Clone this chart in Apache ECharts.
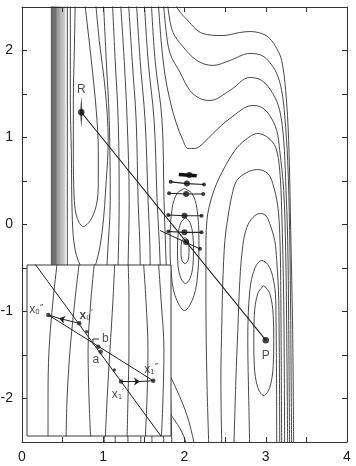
<!DOCTYPE html>
<html><head><meta charset="utf-8">
<script src="https://cdn.jsdelivr.net/npm/echarts@6/dist/echarts.min.js"></script>
<style>html,body{margin:0;padding:0;background:#fff}#c{width:356px;height:466px}</style>
</head><body><div id="c"></div>
<script>
// ---- tick labels ----
const xTickLabels = [0, 1, 2, 3, 4];
const yTickLabels = [-2, -1, 0, 1, 2];

// ---- main surface contours (data coordinates) ----
const bandX = [0.362,0.372,0.382,0.392,0.402,0.412,0.423,0.434,0.446,0.458,0.47,0.483,0.497,0.512,0.527];
const wallLineX = [0.558];
const contourU = [[0.656,2.6],[0.644,2.0],[0.632,1.425],[0.632,0.851],[0.644,0.276],[0.681,0.069],[0.755,-0.023],[0.84,0.046],[0.914,0.218],[0.939,0.471],[0.939,0.851],[0.914,1.31],[0.853,1.885],[0.791,2.402],[0.767,2.6]];
const contourR2 = [[0.595,2.6],[0.595,1.425],[0.607,0.851],[0.62,0.046],[0.656,-0.299],[0.742,-0.506],[0.84,-0.552],[0.914,-0.437],[0.988,-0.069],[1.037,0.506],[1.061,0.966],[1.025,1.54],[0.951,2.115],[0.902,2.6]];
const vRowsY = [2.6,1.885,1.195,0.276,-0.414,-1.103,-1.793,-2.6];
const contourV1 = [1.0,1.037,1.074,1.086,1.049,1.025,1.012,1.012];
const contourV2 = [1.11,1.147,1.184,1.196,1.184,1.16,1.147,1.147];
const contourV3 = [1.209,1.258,1.294,1.319,1.307,1.294,1.294,1.307];
const contourV4 = [1.307,1.356,1.405,1.429,1.454,1.454,1.454,1.466];
const contourV5 = [1.405,1.454,1.515,1.552,1.577,1.577,1.589,1.601];
const contourV6 = [1.503,1.552,1.626,1.663,1.699,1.712,1.724,1.748];
const contourV7 = [1.589,1.638,1.724,1.748,1.773,1.798,1.822,1.847];
const contourA = [[1.883,2.6],[1.908,2.494],[2.006,2.379],[2.227,2.195],[2.472,2.172],[2.681,2.207],[2.804,2.218],[2.951,2.195],[3.049,2.138],[3.135,2.023],[3.196,1.885],[3.245,1.54],[3.282,0.966],[3.307,-0.069],[3.331,-1.218],[3.344,-2.6]];
const contourB = [[1.785,2.6],[1.81,2.402],[1.859,2.207],[1.969,2.057],[2.153,1.885],[2.35,1.828],[2.558,1.885],[2.804,1.966],[2.951,1.943],[3.049,1.862],[3.135,1.736],[3.196,1.54],[3.233,1.253],[3.27,0.736],[3.294,-0.069],[3.307,-1.103],[3.319,-2.6]];
const contourC = [[1.736,2.6],[1.773,2.23],[1.822,1.966],[1.945,1.747],[2.067,1.54],[2.19,1.448],[2.313,1.425],[2.558,1.54],[2.804,1.69],[2.951,1.655],[3.086,1.506],[3.172,1.31],[3.221,0.966],[3.245,0.506],[3.27,-0.184],[3.282,-1.103],[3.294,-2.6]];
const contourD = [[1.675,2.6],[1.712,2.115],[1.761,1.713],[1.822,1.425],[1.896,1.172],[1.982,0.966],[2.043,0.874],[2.129,0.874],[2.227,0.931],[2.35,1.046],[2.558,1.218],[2.84,1.368],[2.951,1.345],[3.049,1.253],[3.135,1.08],[3.172,0.851],[3.221,0.391],[3.245,-0.299],[3.258,-1.218],[3.27,-2.6]];
const contourE = [[2.301,-2.6],[2.276,-1.793],[2.264,-0.874],[2.264,-0.184],[2.276,0.046],[2.301,0.195],[2.362,0.391],[2.46,0.598],[2.62,0.851],[2.755,0.977],[2.902,1.046],[3.025,1.0],[3.123,0.885],[3.172,0.621],[3.196,0.161],[3.221,-0.874],[3.233,-2.6]];
const contourArch2 = [[2.46,-2.6],[2.448,-1.793],[2.46,-1.103],[2.472,-0.644],[2.497,-0.184],[2.534,0.08],[2.583,0.333],[2.644,0.506],[2.767,0.598],[2.902,0.632],[3.025,0.586],[3.086,0.471],[3.147,0.218],[3.172,-0.103],[3.184,-0.644],[3.196,-2.6]];
const contourArch1 = [[2.607,-2.6],[2.632,-1.793],[2.656,-1.218],[2.681,-0.644],[2.718,-0.241],[2.767,-0.034],[2.84,0.08],[2.926,0.126],[3.0,0.103],[3.049,0.011],[3.11,-0.184],[3.135,-0.414],[3.16,-0.874],[3.172,-2.6]];
const contourArch0 = [[2.804,-2.6],[2.791,-2.023],[2.779,-1.333],[2.804,-0.759],[2.865,-0.506],[2.951,-0.414],[3.025,-0.46],[3.086,-0.598],[3.123,-0.874],[3.135,-2.6]];
const contourP = [[2.975,-0.701],[3.049,-0.793],[3.092,-1.046],[3.098,-1.333],[3.092,-1.621],[3.049,-1.874],[2.975,-1.966],[2.902,-1.874],[2.859,-1.621],[2.853,-1.333],[2.859,-1.046],[2.902,-0.793],[2.975,-0.701]];
const contourI1 = [[2.006,-0.149],[2.043,-0.184],[2.055,-0.299],[2.043,-0.414],[2.006,-0.448],[1.969,-0.414],[1.957,-0.299],[1.969,-0.184],[2.006,-0.149]];
const contourI2 = [[2.012,0.08],[2.067,0.023],[2.104,-0.126],[2.11,-0.299],[2.104,-0.471],[2.067,-0.621],[2.012,-0.678],[1.957,-0.621],[1.92,-0.471],[1.914,-0.299],[1.92,-0.126],[1.957,0.023],[2.012,0.08]];
const contourI3 = [[2.0,0.414],[2.092,0.356],[2.153,0.184],[2.178,-0.184],[2.166,-0.529],[2.117,-0.816],[2.0,-0.989],[1.883,-0.816],[1.834,-0.529],[1.822,-0.184],[1.847,0.184],[1.908,0.356],[2.0,0.414]];
const contourArcA = [[1.577,-1.218],[1.761,-1.621],[1.908,-1.908],[2.031,-2.195],[2.117,-2.506],[2.13,-2.6]];
const contourArcB = [[1.577,-1.793],[1.699,-1.966],[1.822,-2.172],[1.945,-2.345],[2.018,-2.506],[2.03,-2.6]];

// ---- path R -> P and line-search rows ----
const pointR = [0.73, 1.29];
const pointP = [3.0, -1.33];
const rowBlob = [[1.93,0.575],[2.15,0.56]];
const rowLines = [
  [[1.83,0.49],[2.03,0.47],[2.24,0.46]],
  [[1.81,0.36],[2.02,0.35],[2.23,0.35]],
  [[1.8,0.11],[2.0,0.10],[2.21,0.10]],
  [[1.8,-0.08],[2.0,-0.09],[2.21,-0.09]]
];
const rowExtra = [[1.7,-0.07],[2.19,-0.28]];
const bigDots = [[2.06,0.57],[2.03,0.47],[2.02,0.35],[2.0,0.10],[2.0,-0.09],[2.02,-0.2]];
const smallDots = [[1.83,0.49],[2.24,0.46],[1.81,0.36],[2.23,0.35],[1.8,0.11],[2.21,0.10],[1.8,-0.08],[2.21,-0.09],[2.19,-0.28]];

// ---- inset (own 0..1 coordinates) ----
const insetRowsY = [1.05,0.795,0.503,0.211,-0.05];
const insetK1 = [0.215,0.181,0.153,0.146,0.146];
const insetK2 = [0.368,0.333,0.299,0.278,0.271];
const insetK3 = [0.472,0.444,0.424,0.431,0.444];
const insetK4 = [0.611,0.597,0.576,0.556,0.542];
const insetK5 = [0.701,0.708,0.708,0.701,0.694];
const insetK6 = [0.806,0.826,0.84,0.833,0.819];
const insetK7 = [0.91,0.931,0.951,0.944,0.931];
const ptX0pp = [0.148, 0.708];
const ptX0p = [0.363, 0.659];
const ptB = [0.495, 0.522];
const ptA = [0.512, 0.493];
const ptX1p = [0.653, 0.318];
const ptX1pp = [0.877, 0.323];
const insetSmallDots = [[0.415,0.61],[0.606,0.386]];
const insetLine1 = [[0.0,1.07],[0.93,0.0]];
const arrowHead0 = [0.222, 0.688];
const arrowHead1 = [0.785, 0.319];
const bTick = [[0.458,0.535],[0.458,0.567],[0.5,0.567]];

// ---- build ----
const INK = '#333';
const series = [];
function contour(data, extra) {
  return Object.assign({type:'line', data, xAxisIndex:0, yAxisIndex:0, symbol:'none', showSymbol:false,
    smooth:0.35, silent:true, animation:false, z:2,
    lineStyle:{color:INK, width:0.9}}, extra || {});
}
bandX.forEach((x, i) => series.push(contour([[x,2.6],[x,-1.0]], {smooth:false,
  lineStyle:{color:'#222', width:0.8, opacity: Math.max(0.35, 0.95 - i * 0.045)}})));
wallLineX.forEach(x => series.push(contour([[x,2.6],[x,-1.0]], {smooth:false})));
[contourU, contourR2, contourA, contourB, contourC, contourD, contourE, contourArch2, contourArch1, contourArch0,
 contourP, contourI1, contourI2, contourI3, contourArcA, contourArcB].forEach(c => series.push(contour(c)));
[contourV1, contourV2, contourV3, contourV4, contourV5, contourV6, contourV7].forEach(xs =>
  series.push(contour(xs.map((x,i) => [x, vRowsY[i]]))));

// path
series.push(contour([pointR, pointP], {smooth:false, lineStyle:{color:'#222', width:1.1}, z:3}));
series.push(contour(rowBlob, {smooth:false, lineStyle:{color:'#111', width:3.5}, z:3}));
rowLines.forEach(r => series.push(contour(r, {smooth:false, lineStyle:{color:'#222', width:1.1}, z:3})));
series.push(contour(rowExtra, {smooth:false, lineStyle:{color:'#222', width:1}, z:3}));
series.push({type:'scatter', data:bigDots, symbol:'circle', symbolSize:6, itemStyle:{color:'#111'}, silent:true, animation:false, z:4});
series.push({type:'scatter', data:smallDots, symbol:'circle', symbolSize:4, itemStyle:{color:'#111'}, silent:true, animation:false, z:4});
series.push({type:'scatter', data:[pointR], symbol:'diamond', symbolSize:[2.5,32], itemStyle:{color:'#222'}, silent:true, animation:false, z:4});
series.push({type:'scatter', symbol:'circle', symbolSize:6.5, itemStyle:{color:'#111'}, silent:true, animation:false, z:4,
  label:{show:true, position:'inside', fontFamily:'Liberation Sans', fontSize:12, color:'#222',
    formatter: p => p.dataIndex === 0 ? 'R' : 'P'},
  data:[{value:pointR, label:{offset:[0,-23]}}, {value:pointP, label:{offset:[0,15]}}]});

// inset
function insetLine(data, extra) {
  return Object.assign({type:'line', data, xAxisIndex:2, yAxisIndex:2, symbol:'none', showSymbol:false,
    smooth:0.35, silent:true, animation:false, z:6,
    lineStyle:{color:INK, width:0.9}}, extra || {});
}
[insetK1, insetK2, insetK3, insetK4, insetK5, insetK6, insetK7].forEach(xs =>
  series.push(insetLine(xs.map((x,i) => [x, insetRowsY[i]]))));
series.push(insetLine(insetLine1, {smooth:false, lineStyle:{color:'#222', width:1}}));
series.push(insetLine([ptX0pp, ptX1pp], {smooth:false, lineStyle:{color:'#222', width:1}}));
series.push(insetLine([ptX0pp, arrowHead0], {smooth:false, lineStyle:{color:'#222', width:1}}));
series.push(insetLine([arrowHead1, ptX1pp], {smooth:false, lineStyle:{color:'#222', width:1}}));
series.push(insetLine(bTick, {smooth:false, lineStyle:{color:'#222', width:0.9}}));
series.push(insetLine([], {markLine:{silent:true, animation:false, symbol:['none','arrow'], symbolSize:6,
  label:{show:false}, lineStyle:{color:'#222', width:1, type:'solid'},
  data:[[{coord:ptX0p},{coord:arrowHead0}],[{coord:ptX1p},{coord:arrowHead1}]]}}));
series.push({type:'scatter', xAxisIndex:2, yAxisIndex:2, data:insetSmallDots, symbol:'circle', symbolSize:3.5,
  itemStyle:{color:'#222'}, silent:true, animation:false, z:7});
const rich = {
  x:{fontFamily:'Liberation Sans', fontSize:12, color:'#222'},
  xb:{fontFamily:'Liberation Sans', fontSize:12, fontWeight:'bold', color:'#222'},
  s:{fontFamily:'DejaVu Sans', fontSize:7, color:'#222', verticalAlign:'bottom', lineHeight:8},
  p:{fontFamily:'DejaVu Sans', fontSize:10, color:'#222', verticalAlign:'top', lineHeight:10}
};
function lab(value, text, offset) {
  return {value, label:{show:true, position:'inside', offset, formatter:text, rich,
    fontFamily:'Liberation Sans', fontSize:12, color:'#222'}};
}
series.push({type:'scatter', xAxisIndex:2, yAxisIndex:2, symbol:'circle', symbolSize:4.5,
  itemStyle:{color:'#222'}, silent:true, animation:false, z:7,
  data:[
    lab(ptX0pp, '{x|x}{s|0}{p|″}', [-12,-5]),
    lab(ptX0p, '{xb|x}{s|0}{p|′}', [7,-8]),
    lab(ptB, 'b', [7,-8]),
    lab(ptA, 'a', [-5,8]),
    lab(ptX1p, '{x|x}{s|1}{p|′}', [-3,13]),
    lab(ptX1pp, '{x|x}{s|1}{p|″}', [-2,-11])
  ]});

function axisCommon(extra) {
  return Object.assign({type:'value', axisLine:{show:true, onZero:false, lineStyle:{color:INK, width:1}},
    axisTick:{show:true, inside:true, length:5, lineStyle:{color:INK, width:1}},
    splitLine:{show:false}, minorTick:{show:false}}, extra);
}
const labelStyle = {fontFamily:'Liberation Sans', fontSize:14, color:'#1a1a1a'};
const option = {
  backgroundColor:'#fff',
  animation:false,
  grid:[
    {left:22, right:9, top:7, bottom:24, containLabel:false, outerBoundsMode:'none', z:0},
    {left:27, top:265, width:144, height:171, containLabel:false, outerBoundsMode:'none', show:true,
     backgroundColor:'#fff', borderColor:'#3a3a3a', borderWidth:1, z:4}
  ],
  xAxis:[
    axisCommon({gridIndex:0, min:0, max:4, interval:0.5, position:'bottom',
      axisLabel:Object.assign({margin:8, formatter:v => xTickLabels.includes(v) ? String(v) : ''}, labelStyle)}),
    axisCommon({gridIndex:0, min:0, max:4, interval:0.5, position:'top', axisLabel:{show:false}}),
    {type:'value', gridIndex:1, min:0, max:1, show:false}
  ],
  yAxis:[
    axisCommon({gridIndex:0, min:-2.5, max:2.5, interval:0.5, position:'left',
      axisLabel:Object.assign({margin:9, formatter:v => yTickLabels.includes(v) ? String(v) : ''}, labelStyle)}),
    axisCommon({gridIndex:0, min:-2.5, max:2.5, interval:0.5, position:'right', axisLabel:{show:false}}),
    {type:'value', gridIndex:1, min:0, max:1, show:false}
  ],
  series
};
const chart = echarts.init(document.getElementById('c'), null, {renderer:'canvas'});
chart.setOption(option);
</script></body></html>
